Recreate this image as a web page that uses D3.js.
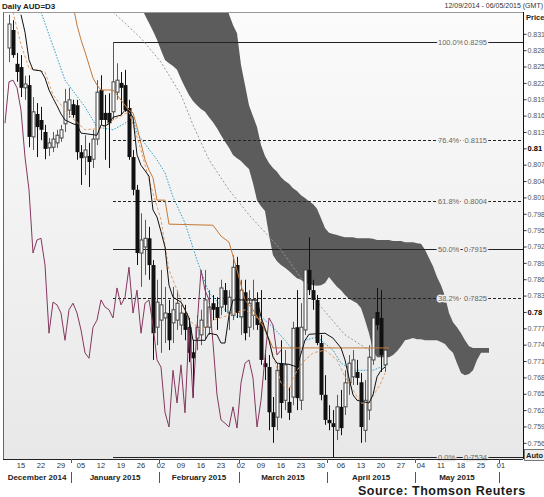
<!DOCTYPE html>
<html><head><meta charset="utf-8">
<script src="https://cdn.jsdelivr.net/npm/d3@7"></script>
<style>
body{margin:0;background:#fff}
svg{display:block}
text{font-family:"Liberation Sans",Arial,sans-serif}
</style>
</head><body>
<svg id="c" width="544" height="497"></svg>
<script>
// ---------- DATA ----------
const startDate = "2014-12-09", endDate = "2015-06-05";   // trading-day axis (weekdays)
const firstCandleDay = 1;                                   // index of first candle in the trading-day list
const opens  = [.8284,.8317,.8255,.8249,.8211,.8216,.8121,.8163,.8152,.8130,.8101,.8102,.8110,.8119,.8145,.8170,.8181,.8179,.8093,.8084,.8086,.8080,.8117,.8207,.8165,.8165,.8167,.8203,.8220,.8216,.8174,.8084,.8024,.7908,.7919,.7935,.7886,.7772,.7785,.7789,.7798,.7780,.7785,.7776,.7798,.7772,.7726,.7752,.7758,.7772,.7772,.7816,.7809,.7809,.7840,.7798,.7794,.7886,.7791,.7836,.7772,.7794,.7818,.7780,.7706,.7699,.7616,.7607,.7706,.7638,.7635,.7644,.7772,.7638,.7767,.7877,.7840,.7822,.7743,.7648,.7602,.7596,.7583,.7626,.7626,.7670,.7681,.7690,.7671,.7583,.7620,.7712,.7800,.7789,.7703];
const highs  = [.8345,.8335,.8275,.8271,.8233,.8234,.8194,.8183,.8176,.8143,.8119,.8130,.8134,.8143,.8209,.8211,.8189,.8189,.8106,.8124,.8110,.8134,.8225,.8234,.8198,.8201,.8295,.8256,.8240,.8244,.8189,.8097,.8033,.7981,.7969,.7956,.7895,.7859,.7877,.7846,.7822,.7846,.7840,.7813,.7813,.7789,.7748,.7794,.7804,.7877,.7840,.7831,.7827,.7859,.7853,.7840,.7904,.7901,.7859,.7859,.7840,.7859,.7836,.7840,.7730,.7721,.7644,.7706,.7748,.7730,.7662,.7782,.7840,.7816,.7914,.7937,.7859,.7831,.7758,.7684,.7629,.7620,.7648,.7657,.7693,.7721,.7730,.7712,.7688,.7675,.7739,.7804,.7844,.7840,.7748];
const lows   = [.8258,.8266,.8222,.8194,.8189,.8102,.8097,.8084,.8115,.8080,.8086,.8093,.8101,.8112,.8130,.8156,.8156,.8079,.8033,.8051,.8029,.8064,.8106,.8143,.8079,.8064,.8152,.8189,.8161,.8167,.8079,.8014,.7886,.7846,.7868,.7859,.7712,.7739,.7725,.7743,.7730,.7743,.7767,.7758,.7748,.7708,.7644,.7730,.7739,.7748,.7758,.7785,.7767,.7794,.7800,.7767,.7785,.7789,.7758,.7748,.7754,.7767,.7767,.7703,.7675,.7583,.7560,.7583,.7605,.7620,.7602,.7629,.7620,.7620,.7758,.7831,.7804,.7739,.7638,.7593,.7583,.7534,.7565,.7574,.7611,.7648,.7666,.7666,.7560,.7561,.7602,.7703,.7767,.7690,.7690];
const closes = [.8328,.8271,.8240,.8211,.8218,.8121,.8167,.8139,.8134,.8099,.8110,.8117,.8124,.8134,.8185,.8189,.8161,.8093,.8082,.8097,.8075,.8117,.8203,.8152,.8152,.8146,.8222,.8225,.8211,.8170,.8084,.8024,.7908,.7932,.7935,.7886,.7761,.7818,.7813,.7798,.7748,.7804,.7816,.7798,.7767,.7725,.7715,.7772,.7785,.7822,.7809,.7804,.7789,.7844,.7813,.7827,.7882,.7798,.7840,.7761,.7816,.7822,.7776,.7712,.7699,.7616,.7589,.7693,.7633,.7703,.7615,.7770,.7642,.7772,.7877,.7840,.7822,.7743,.7648,.7602,.7596,.7589,.7626,.7587,.7670,.7706,.7712,.7679,.7589,.7638,.7717,.7789,.7776,.7721,.7730];

const chikouShift = 26;

const tenkanDay = [4,5,6,7,9,10,11,12,13,14,15,17,18,19,23,24,25,26,27,29,30,31,32,33,34,36,37,38,39,40,41,42,44,45,46,47,50,51,53,54,55,56,57,63,64,66,67,68,71,73,75,76,80,82,84,85,86,87,88,91,92,93,94,95];
const tenkanVal = [.8345,.8313,.8262,.8244,.8242,.8229,.8207,.8192,.8178,.8163,.8152,.8145,.8143,.8128,.8124,.8143,.8141,.8145,.8157,.8161,.8170,.8168,.8157,.8088,.8069,.8049,.7987,.7974,.7947,.7919,.7849,.7827,.7818,.7804,.7789,.7748,.7748,.7761,.7758,.7743,.7743,.7794,.7822,.7822,.7791,.7748,.7717,.7706,.7704,.7699,.7748,.7759,.7761,.7752,.7734,.7712,.7679,.7648,.7638,.7633,.7648,.7681,.7693,.7699];

const kijunDay = [17,18,19,20,21,22,23,24,27,28,30,31,32,33,35,36,37,38,40,41,52,54,56,58,60,62,65,67,96];
const kijunVal = [.8363,.8326,.8299,.8277,.8253,.8229,.8216,.8207,.8207,.8198,.8179,.8170,.8165,.8139,.8079,.8060,.8046,.8005,.8005,.7961,.7959,.7939,.7928,.7877,.7822,.7804,.7767,.7734,.7734];

const emaDay = [2,4,6,10,12,16,20,24,27,31,34,36,39,41,44,46,49,52,56,60,64,66,69,71,73,75,77,80,83,85,87,89,91,94,95];
const emaVal = [.8350,.8290,.8247,.8240,.8198,.8161,.8134,.8137,.8152,.8167,.8097,.8042,.7969,.7877,.7822,.7785,.7767,.7785,.7794,.7804,.7785,.7748,.7670,.7657,.7693,.7712,.7725,.7730,.7712,.7681,.7657,.7633,.7633,.7670,.7688];

const maFastDay = [9,15,20,23,27,30,32,33,38,40,42,45,48,51,55,57,60,63,67,70,72,75,78,82,84,87,92,94,96];
const maFastVal = [.8350,.8225,.8176,.8139,.8134,.8146,.8157,.8128,.8079,.8055,.8011,.7963,.7895,.7835,.7804,.7791,.7791,.7798,.7772,.7748,.7730,.7748,.7754,.7730,.7706,.7693,.7693,.7699,.7706];

const maSlowDay = [27,34,39,44,47,51,56,61,69,74,79,85,91];
const maSlowVal = [.8350,.8302,.8258,.8198,.8143,.8079,.8024,.7978,.7914,.7862,.7809,.7758,.7730];

const cloudFirstDay = 34;
const cloudUpper = [.8390,.8390,.8390,.8390,.8390,.8390,.8390,.8390,.8390,.8390,.8390,.8390,.8390,.8390,.8390,.8390,.8390,.8390,.8390,.8390,.8390,.8380,.8346,.8326,.8311,.8253,.8216,.8179,.8159,.8139,.8106,.8086,.8073,.8064,.8057,.8047,.8040,.8035,.8027,.8022,.8014,.8009,.8003,.7998,.7989,.7972,.7954,.7945,.7943,.7941,.7939,.7937,.7937,.7937,.7935,.7935,.7935,.7935,.7934,.7932,.7932,.7932,.7932,.7930,.7930,.7930,.7928,.7928,.7928,.7926,.7925,.7914,.7899,.7884,.7864,.7849,.7829,.7798,.7781,.7772,.7761,.7748,.7737,.7734,.7734,.7734,.7734,.7734];
const cloudLower = [.8360,.8344,.8330,.8315,.8299,.8280,.8262,.8256,.8251,.8244,.8227,.8212,.8198,.8187,.8179,.8172,.8167,.8157,.8148,.8137,.8124,.8112,.8101,.8088,.8082,.8077,.8069,.8062,.8036,.8005,.7994,.7985,.7941,.7904,.7893,.7886,.7881,.7875,.7868,.7862,.7859,.7853,.7851,.7849,.7848,.7849,.7853,.7864,.7855,.7846,.7840,.7831,.7824,.7820,.7816,.7807,.7785,.7761,.7730,.7717,.7717,.7717,.7717,.7721,.7728,.7737,.7748,.7750,.7752,.7750,.7750,.7748,.7748,.7748,.7748,.7745,.7741,.7732,.7725,.7706,.7688,.7684,.7686,.7693,.7712,.7725,.7725,.7725];

const fibLabels = ["100.0%","76.4%","61.8%","50.0%","38.2%","0.0%"];
const fibValues = [0.8295,0.8115,0.8004,0.7915,0.7825,0.7534];
const fibDashed = [false,true,true,false,true,false];
const fibStartDay = 27;

const yTicks = [0.756,0.759,0.762,0.765,0.768,0.771,0.774,0.777,0.780,0.783,0.786,0.789,0.792,0.795,0.798,0.801,0.804,0.807,0.810,0.813,0.816,0.819,0.822,0.825,0.828,0.831];
const yBoldTicks = [0.810,0.780];
const monthLabels = ["December 2014","January 2015","February 2015","March 2015","April 2015","May 2015"];

// ---------- LAYOUT ----------
const P = {l:3, t:12, r:523, b:459};
const svg = d3.select("#c");
const parse = d3.timeParse("%Y-%m-%d");
const days = d3.timeDay.range(parse(startDate), d3.timeDay.offset(parse(endDate),1)).filter(d=>d.getDay()!==0 && d.getDay()!==6);
const x = d3.scalePoint().domain(d3.range(days.length)).range([5, 5 + 4*(days.length-1)]);
const y = d3.scaleLinear().domain([fibValues[5], fibValues[0]]).range([457, 42]);

const defs = svg.append("defs");
const bgTop = "#fbfbfb", bgBot = "#e8e8e8";
const grad = defs.append("linearGradient").attr("id","bg").attr("x1",0).attr("y1",0).attr("x2",0).attr("y2",1);
grad.append("stop").attr("offset",0).attr("stop-color",bgTop);
grad.append("stop").attr("offset",1).attr("stop-color",bgBot);
defs.append("clipPath").attr("id","clip").append("rect").attr("x",P.l).attr("y",P.t).attr("width",P.r-P.l).attr("height",P.b-P.t);
const bgAt = v => d3.interpolateRgb(bgTop,bgBot)((y(v)-P.t)/(P.b-P.t));

svg.append("rect").attr("x",P.l).attr("y",P.t).attr("width",P.r-P.l).attr("height",P.b-P.t).attr("fill","url(#bg)");

const g = svg.append("g").attr("clip-path","url(#clip)");

// cloud
const cloudData = cloudUpper.map((u,k)=>({d:cloudFirstDay+k,u,l:cloudLower[k]}));
g.append("path").datum(cloudData)
  .attr("d", d3.area().x(d=>x(d.d)).y0(d=>y(d.l)).y1(d=>y(d.u)))
  .attr("fill","#5c5c5c");

// fib lines
fibValues.forEach((v,k)=>{
  g.append("line").attr("x1",x(fibStartDay)).attr("x2",P.r).attr("y1",Math.round(y(v))+0.5).attr("y2",Math.round(y(v))+0.5)
    .attr("stroke","#222").attr("stroke-width",1).attr("stroke-dasharray",fibDashed[k]?"3,2":null);
});

const line = (days_, vals) => d3.line().x(d=>x(d[0])).y(d=>y(d[1]))(days_.map((d,k)=>[d,vals[k]]));

g.append("path").attr("d",line(maSlowDay,maSlowVal)).attr("fill","none").attr("stroke","#9a9a9a").attr("stroke-width",1).attr("stroke-dasharray","2,2");
g.append("path").attr("d",line(maFastDay,maFastVal)).attr("fill","none").attr("stroke","#2b9ec4").attr("stroke-width",1).attr("stroke-dasharray","1.5,1.5");

// candles
const candles = opens.map((o,k)=>({d:firstCandleDay+k,o,h:highs[k],l:lows[k],c:closes[k]}));
const cg = g.append("g");
candles.forEach(c=>{
  const cx = Math.round(x(c.d));
  const up = c.c >= c.o;
  cg.append("line").attr("x1",cx+0.5).attr("x2",cx+0.5).attr("y1",y(c.h)).attr("y2",y(c.l))
    .attr("stroke", up ? "#5a5a5a" : "#111").attr("stroke-width",1);
  const top = y(Math.max(c.o,c.c)), bot = y(Math.min(c.o,c.c));
  if(up){
    cg.append("rect").attr("x",cx-1).attr("y",top).attr("width",3).attr("height",Math.max(1,bot-top))
      .attr("fill","#fff").attr("stroke","#444").attr("stroke-width",1);
  } else {
    cg.append("rect").attr("x",cx-1.5).attr("y",top).attr("width",4).attr("height",Math.max(1,bot-top)).attr("fill","#111");
  }
});

// indicator lines
g.append("path").attr("d",line(emaDay,emaVal)).attr("fill","none").attr("stroke","#e2a06a").attr("stroke-width",1).attr("stroke-dasharray","3,2");
g.append("path").attr("d",line(kijunDay,kijunVal)).attr("fill","none").attr("stroke","#c57838").attr("stroke-width",1);
const chikouDays = candles.filter(c=>c.d-chikouShift>=0).map(c=>c.d-chikouShift);
const chikouVals = candles.filter(c=>c.d-chikouShift>=0).map(c=>c.c);
g.append("path").attr("d",line(chikouDays,chikouVals)).attr("fill","none").attr("stroke","#84375f").attr("stroke-width",1);
g.append("path").attr("d",line(tenkanDay,tenkanVal)).attr("fill","none").attr("stroke","#111").attr("stroke-width",1);

// fib labels
fibValues.forEach((v,k)=>{
  const yy = Math.round(y(v))+3;
  const halo = bgAt(v);
  [[fibLabels[k],438,"start"],[v.toFixed(4),487,"end"]].forEach(([t,xx,a])=>{
    svg.append("text").attr("x",xx).attr("y",yy).attr("text-anchor",a).attr("font-size",7.5).attr("fill","#666")
      .attr("stroke",halo).attr("stroke-width",3).attr("paint-order","stroke").text(t);
  });
});

// frame
svg.append("line").attr("x1",P.l).attr("x2",P.r).attr("y1",P.t+0.5).attr("y2",P.t+0.5).attr("stroke","#999");
svg.append("line").attr("x1",P.l+0.5).attr("x2",P.l+0.5).attr("y1",P.t).attr("y2",P.b).attr("stroke","#666");
svg.append("line").attr("x1",P.l).attr("x2",P.r).attr("y1",P.b+0.5).attr("y2",P.b+0.5).attr("stroke","#222");

// right axis
const fmt = d3.format(".3~f");
const ya = svg.append("g").attr("transform",`translate(${P.r+0.5},0)`)
  .call(d3.axisRight(y).tickValues(yTicks).tickSize(3).tickPadding(1).tickFormat(fmt));
ya.select(".domain").attr("d",`M0,${P.t}V${P.b}`).attr("stroke","#111");
ya.selectAll(".tick line").attr("stroke","#333");
ya.selectAll(".tick text").attr("font-family","Liberation Sans, Arial, sans-serif").attr("font-size",7).attr("fill","#555")
  .filter(d=>yBoldTicks.some(b=>Math.abs(b-d)<1e-9)).attr("font-weight","bold").attr("fill","#000").attr("font-size",7.5);

// bottom axis: day labels (Mondays)
const mondays = d3.range(days.length).filter(i=>days[i].getDay()===1);
const dayFmt = d3.timeFormat("%d");
svg.append("g").selectAll("text").data(mondays).join("text")
  .attr("x",i=>x(i)).attr("y",468).attr("text-anchor","middle").attr("font-size",7.5).attr("fill","#333").text(i=>dayFmt(days[i]));

// month groups
const monthKey = d3.timeFormat("%Y-%m");
const groups = d3.groups(d3.range(days.length), i=>monthKey(days[i]));
groups.slice(0,monthLabels.length).forEach(([k,idx],m)=>{
  const a = x(idx[0]), b = x(idx[idx.length-1]);
  svg.append("text").attr("x",(a+b)/2).attr("y",480).attr("text-anchor","middle").attr("font-size",8).attr("font-weight","bold").attr("fill","#222").text(monthLabels[m]);
  const sx = Math.round(b)+2.5;
  svg.append("line").attr("x1",sx).attr("x2",sx).attr("y1",472).attr("y2",483).attr("stroke","#555");
  svg.append("line").attr("x1",sx).attr("x2",sx).attr("y1",P.b).attr("y2",P.b+4).attr("stroke","#555");
});

// titles
svg.append("text").attr("x",2).attr("y",9).attr("font-size",8).attr("font-weight","bold").attr("fill","#222").text("Daily AUD=D3");
svg.append("text").attr("x",543).attr("y",8).attr("text-anchor","end").attr("font-size",7).attr("fill","#333").text("12/09/2014 - 06/05/2015 (GMT)");
svg.append("text").attr("x",526).attr("y",20).attr("font-size",7.5).attr("font-weight","bold").attr("fill","#222").text("Price");
svg.append("rect").attr("x",524.5).attr("y",449.5).attr("width",22).attr("height",11).attr("fill","#eee").attr("stroke","#777");
svg.append("text").attr("x",526).attr("y",458).attr("font-size",7.5).attr("font-weight","bold").attr("fill","#222").text("Auto");
svg.append("text").attr("x",358).attr("y",495).attr("font-family","'Open Sans', sans-serif").attr("font-size",12.5).attr("letter-spacing",0.5).attr("font-weight","bold").attr("fill","#1a1a1a").text("Source: Thomson Reuters");
</script>
</body></html>
